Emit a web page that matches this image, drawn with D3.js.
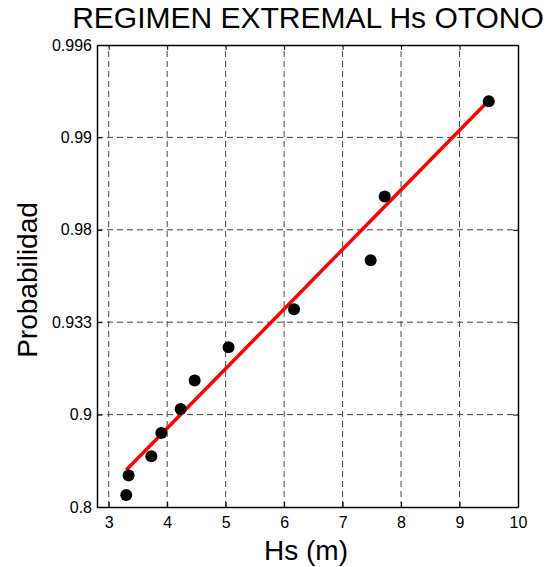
<!DOCTYPE html>
<html>
<head>
<meta charset="utf-8">
<script src="https://cdn.jsdelivr.net/npm/d3@7"></script>
<style>
  body { margin: 0; background: #fff; }
  text { font-family: "Liberation Sans", Arial, sans-serif; fill: #000; }
</style>
</head>
<body>
<script>
// data (y in axis units: one unit per probability tick)
var hs = [3.30, 3.34, 3.73, 3.90, 4.23, 4.47, 5.05, 6.17, 7.48, 7.72, 9.50];
var prob = [0.13, 0.34, 0.55, 0.80, 1.06, 1.37, 1.73, 2.14, 2.67, 3.36, 4.39];
var fitX = [3.30, 9.50];
var fitY = [0.40, 4.40];
var xTicks = [3, 4, 5, 6, 7, 8, 9, 10];
var yTickLabels = ["0.8", "0.9", "0.933", "0.98", "0.99", "0.996"];

var width = 546, height = 567;
var margin = {top: 45, right: 28, bottom: 60, left: 97};

var svg = d3.select("body").append("svg")
    .attr("width", width)
    .attr("height", height);

var x = d3.scaleLinear()
    .domain([2.8, 10])
    .range([margin.left, width - margin.right]);

var y = d3.scaleLinear()
    .domain([0, yTickLabels.length - 1])
    .range([height - margin.bottom, margin.top]);

var yTicks = d3.range(yTickLabels.length);

// grid
svg.append("g").selectAll("line")
    .data(xTicks.slice(0, -1))
    .enter().append("line")
    .attr("x1", function(d){ return x(d); })
    .attr("x2", function(d){ return x(d); })
    .attr("y1", y(0)).attr("y2", y(5))
    .attr("stroke", "#444").attr("stroke-width", 1)
    .attr("stroke-dasharray", "6,4");

svg.append("g").selectAll("line")
    .data(yTicks.slice(1, -1))
    .enter().append("line")
    .attr("y1", function(d){ return y(d); })
    .attr("y2", function(d){ return y(d); })
    .attr("x1", x(2.8)).attr("x2", x(10))
    .attr("stroke", "#444").attr("stroke-width", 1)
    .attr("stroke-dasharray", "6,4");

// axes
var xAxis = d3.axisBottom(x).tickValues(xTicks).tickSizeInner(-5).tickSizeOuter(0).tickPadding(10);
var yAxis = d3.axisLeft(y).tickValues(yTicks)
    .tickFormat(function(d){ return yTickLabels[d]; })
    .tickSizeInner(-5).tickSizeOuter(0).tickPadding(5);

svg.append("g")
    .attr("transform", "translate(0," + y(0) + ")")
    .call(xAxis)
    .call(function(g){ g.selectAll("text").style("font-size", "16px"); });

svg.append("g")
    .attr("transform", "translate(" + x(2.8) + ",0)")
    .call(yAxis)
    .call(function(g){ g.selectAll("text").style("font-size", "16px"); });

// top and right box with inner ticks
svg.append("g")
    .attr("transform", "translate(0," + y(5) + ")")
    .call(d3.axisTop(x).tickValues(xTicks).tickSizeInner(-5).tickSizeOuter(0).tickFormat(""));
svg.append("g")
    .attr("transform", "translate(" + x(10) + ",0)")
    .call(d3.axisRight(y).tickValues(yTicks).tickSizeInner(-5).tickSizeOuter(0).tickFormat(""));

svg.selectAll(".domain").attr("stroke", "#000").attr("stroke-width", 1.5);

// fitted line
var line = d3.line()
    .x(function(d){ return x(d[0]); })
    .y(function(d){ return y(d[1]); });

svg.append("path")
    .datum(d3.zip(fitX, fitY))
    .attr("d", line)
    .attr("fill", "none")
    .attr("stroke", "#ff0000")
    .attr("stroke-width", 3.5);

// observations
svg.append("g").selectAll("circle")
    .data(d3.zip(hs, prob))
    .enter().append("circle")
    .attr("cx", function(d){ return x(d[0]); })
    .attr("cy", function(d){ return y(d[1]); })
    .attr("r", 6)
    .attr("fill", "#000");

// titles
svg.append("text")
    .attr("x", 308).attr("y", 28)
    .attr("text-anchor", "middle")
    .style("font-size", "30px")
    .text("REGIMEN EXTREMAL Hs OTONO");

svg.append("text")
    .attr("x", 306).attr("y", 560)
    .attr("text-anchor", "middle")
    .style("font-size", "28px")
    .text("Hs (m)");

svg.append("text")
    .attr("transform", "translate(37,280) rotate(-90)")
    .attr("text-anchor", "middle")
    .style("font-size", "28px")
    .text("Probabilidad");
</script>
</body>
</html>
